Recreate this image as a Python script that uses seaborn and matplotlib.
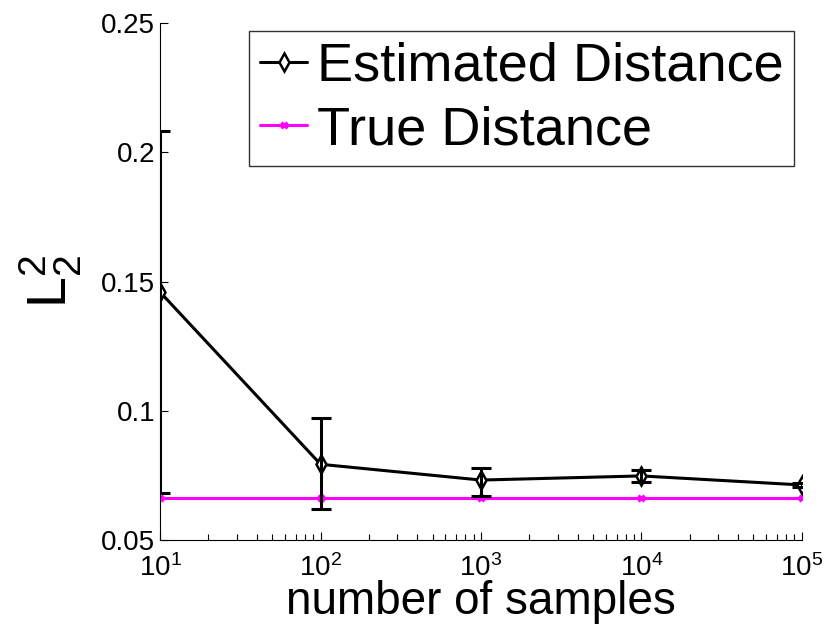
import numpy as np
import pandas as pd
import matplotlib
matplotlib.use("Agg")
import matplotlib.pyplot as plt
import seaborn as sns
from matplotlib.ticker import FixedLocator, FuncFormatter, LogLocator, NullFormatter

# =========================
# Data
# =========================
n_samples = [1e1, 1e2, 1e3, 1e4, 1e5]
est_dist = [0.1459, 0.0793, 0.0732, 0.0748, 0.0713]
est_upper = [0.2084, 0.0971, 0.0780, 0.0771, 0.0722]
est_lower = [0.0681, 0.0619, 0.0670, 0.0726, 0.0704]
true_dist = [0.0661, 0.0661, 0.0661, 0.0661, 0.0661]

y_ticks = [0.05, 0.1, 0.15, 0.2, 0.25]

df = pd.DataFrame({"n": n_samples, "est": est_dist, "true": true_dist})

# =========================
# Style
# =========================
sns.set_style("ticks")
plt.rcParams['font.family'] = ['Liberation Sans', 'DejaVu Sans']
plt.rcParams['mathtext.fontset'] = 'custom'
plt.rcParams['mathtext.rm'] = 'Liberation Sans'
plt.rcParams['mathtext.it'] = 'Liberation Sans'
plt.rcParams['xtick.direction'] = 'in'
plt.rcParams['ytick.direction'] = 'in'
for k in ['text.color', 'axes.labelcolor', 'xtick.color', 'ytick.color']:
    plt.rcParams[k] = 'black'

fig = plt.figure(figsize=(8.3, 6.38), dpi=100)
ax = fig.add_axes([0.193, 0.1536, 0.773, 0.81])

# =========================
# Lines
# =========================
sns.lineplot(data=df, x="n", y="est", ax=ax, color="black", lw=2.2,
             marker="d", markersize=9, markerfacecolor="white",
             markeredgecolor="black", markeredgewidth=1.8,
             label="Estimated Distance")
sns.lineplot(data=df, x="n", y="true", ax=ax, color="magenta", lw=2.2,
             marker="x", markersize=5, markeredgecolor="magenta",
             markeredgewidth=2.2, label="True Distance")

yerr = [np.array(est_dist) - np.array(est_lower),
        np.array(est_upper) - np.array(est_dist)]
ax.errorbar(n_samples, est_dist, yerr=yerr, fmt="none", ecolor="black",
            elinewidth=2.2, capsize=7, capthick=2.2, zorder=3)

# =========================
# Axes
# =========================
ax.set_xscale("log")
ax.set_xlim(10, 1e5)
ax.set_ylim(0.05, 0.25)
ax.yaxis.set_major_locator(FixedLocator(y_ticks))
ax.yaxis.set_major_formatter(FuncFormatter(lambda v, p: f"{v:g}"))
ax.xaxis.set_major_locator(LogLocator(base=10, numticks=10))
ax.xaxis.set_minor_locator(LogLocator(base=10, subs=np.arange(2, 10), numticks=10))
ax.xaxis.set_minor_formatter(NullFormatter())
ax.tick_params(axis="both", which="major", labelsize=20, length=6, width=0.8)
ax.tick_params(axis="x", which="major", pad=10)
ax.tick_params(axis="x", which="minor", length=4, width=0.8)

sns.despine(ax=ax)
for s in ["left", "bottom"]:
    ax.spines[s].set_color("black")
    ax.spines[s].set_linewidth(0.8)

ax.set_xlabel("number of samples", fontsize=33, labelpad=-1)
ax.set_ylabel(r"$\mathrm{L}_2^2$", fontsize=40)
ax.yaxis.set_label_coords(-0.118, 0.5)

leg = ax.legend(loc="upper right", bbox_to_anchor=(0.988, 0.985), fontsize=39,
                frameon=True, fancybox=False, edgecolor="black",
                handlelength=0.87, handletextpad=0.17, borderpad=0.2,
                labelspacing=0.25, borderaxespad=0.0)
leg.get_frame().set_linewidth(1.0)

plt.savefig("out.png", dpi=100)
plt.close()
